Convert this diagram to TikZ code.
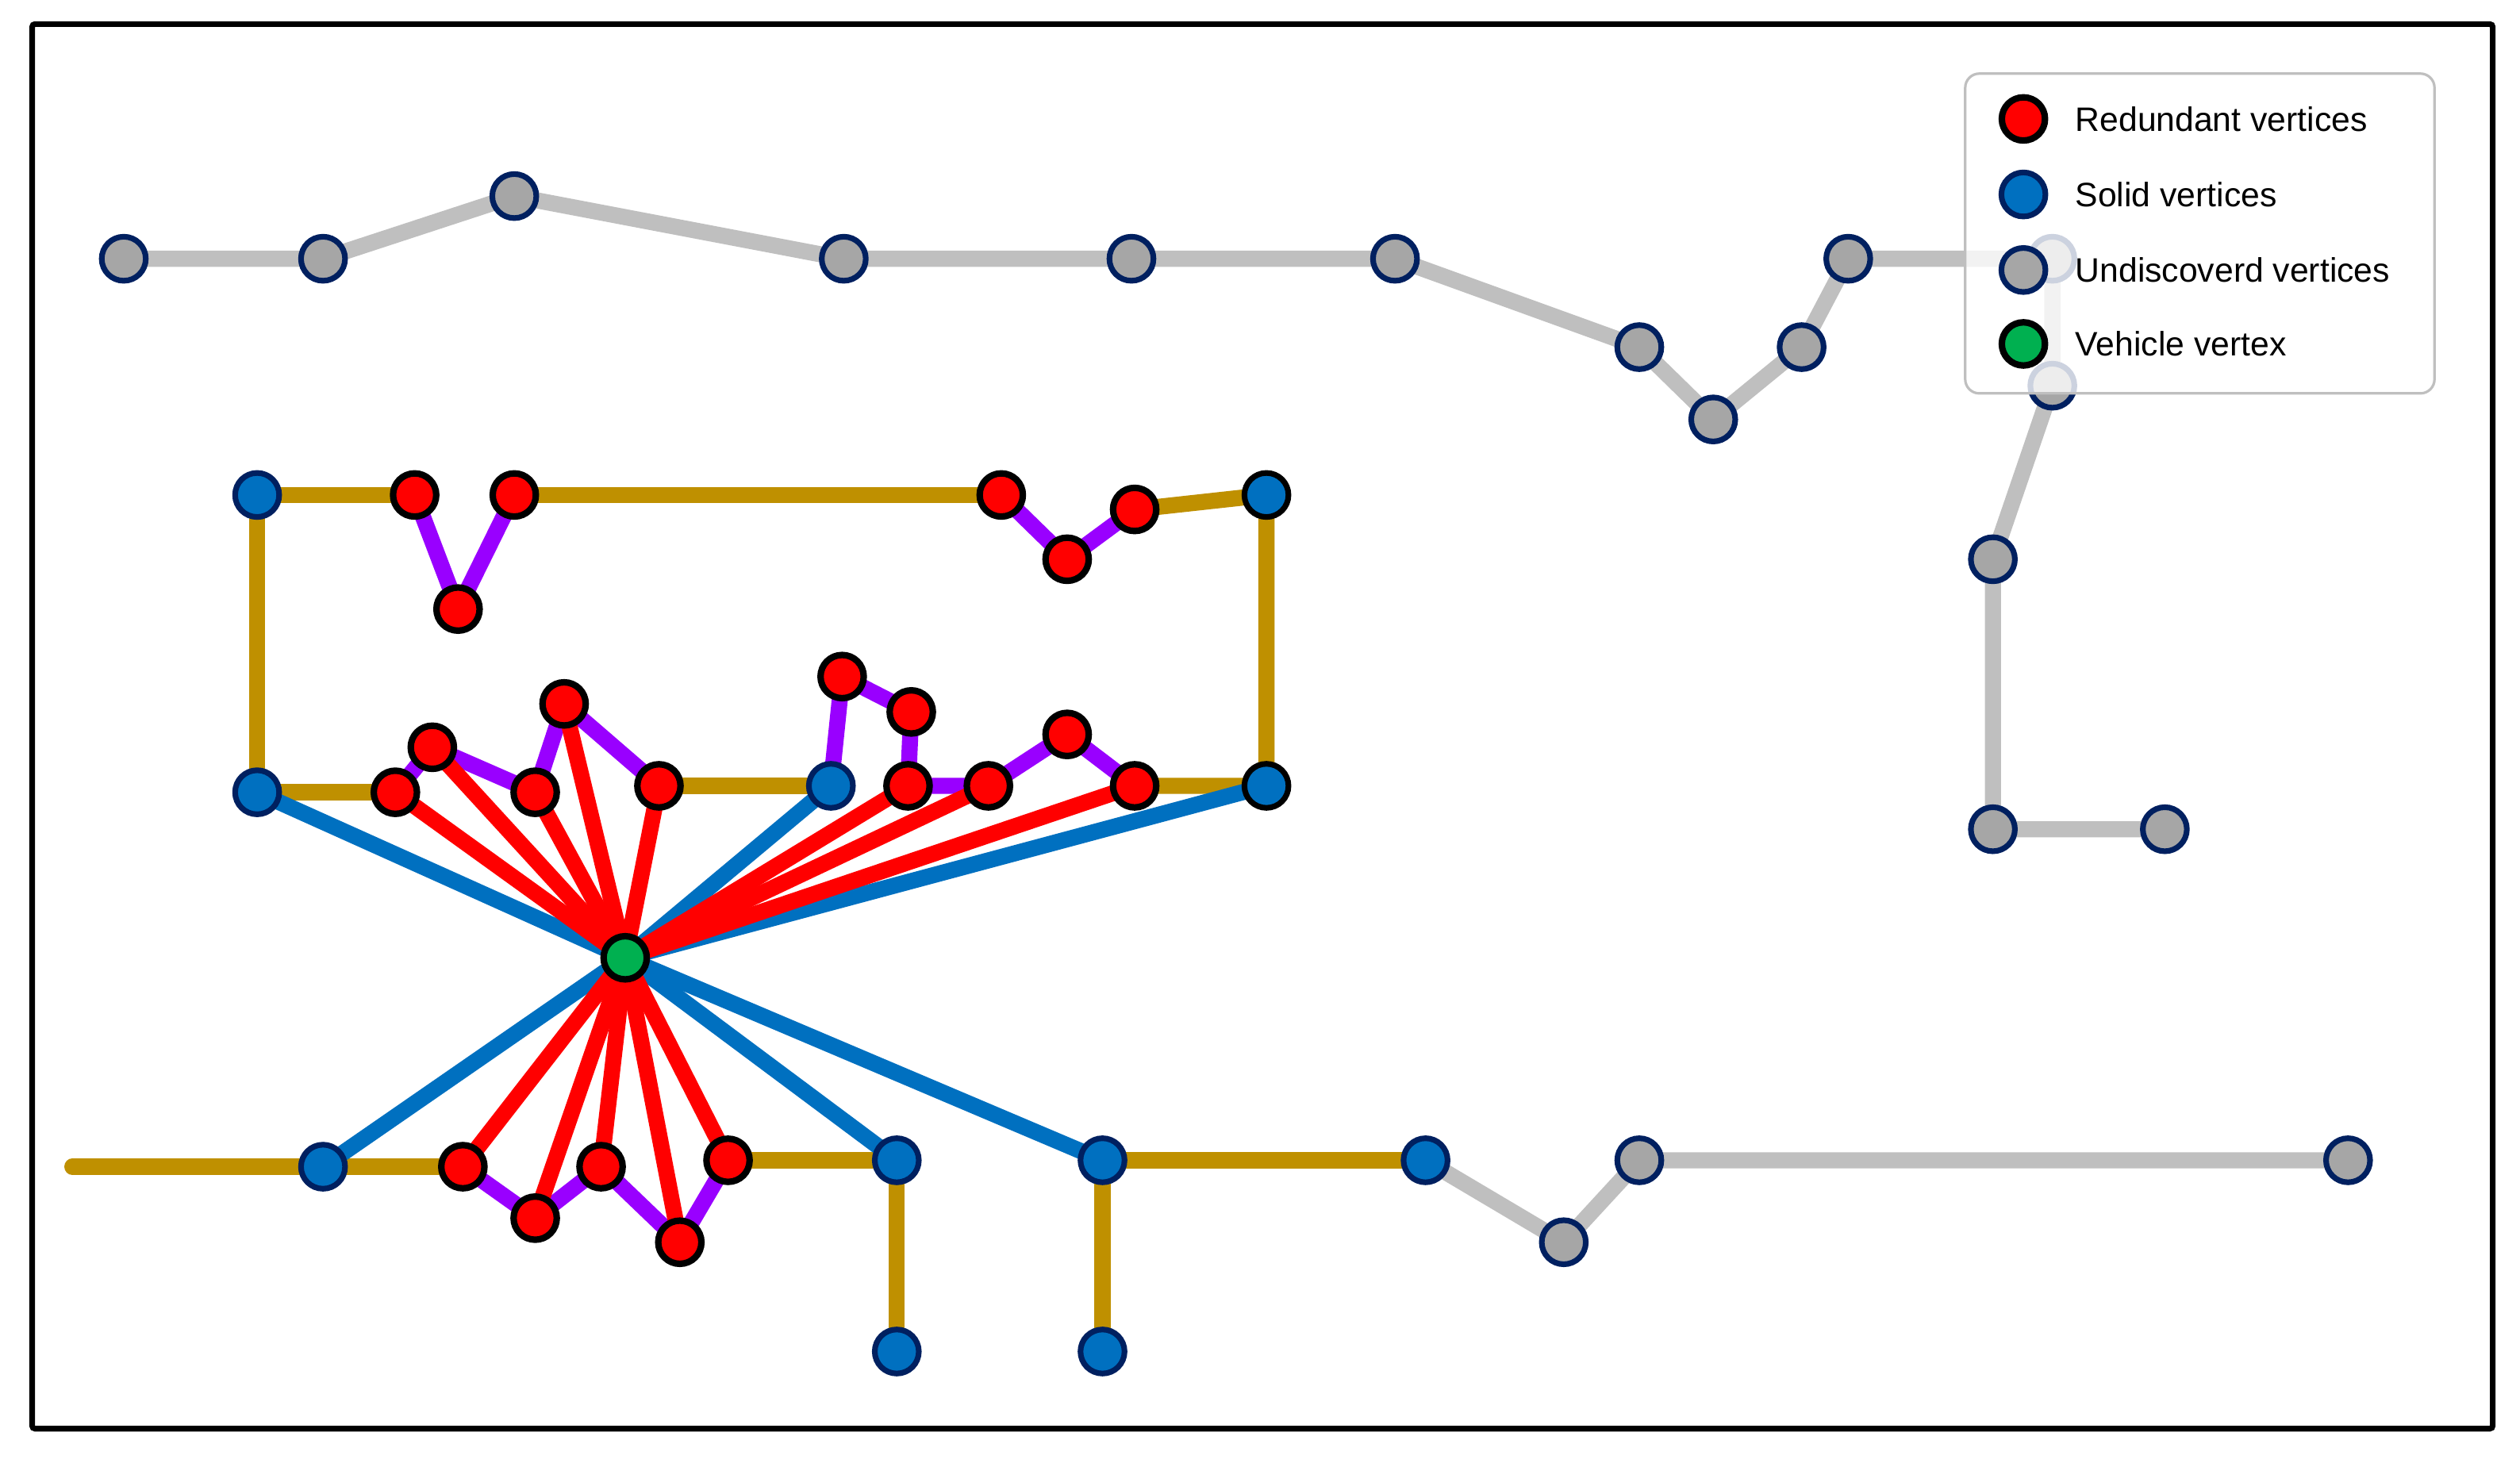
\documentclass[tikz,border=0pt]{standalone}
\usepackage{fontspec}
\setmainfont{Liberation Sans}
\definecolor{vred}{HTML}{FF0000}
\definecolor{vblue}{HTML}{0070C0}
\definecolor{vnavy}{HTML}{002060}
\definecolor{vgray}{HTML}{A6A6A6}
\definecolor{egray}{HTML}{BFBFBF}
\definecolor{egold}{HTML}{BF9000}
\definecolor{epurple}{HTML}{9900FF}
\definecolor{vgreen}{HTML}{00B050}
\pgfdeclarelayer{edges}
\pgfdeclarelayer{legend}
\pgfsetlayers{edges,main,legend}
\begin{document}
\begin{tikzpicture}[x=0.02cm,y=-0.02cm,
  vtx/.style={circle,inner sep=0pt,minimum size=15.6pt,line width=2pt},
  redv/.style={vtx,fill=vred,draw=black,line width=2.3pt,minimum size=15.3pt},
  bluev/.style={vtx,fill=vblue,draw=vnavy},
  blueblk/.style={vtx,fill=vblue,draw=black},
  grayv/.style={vtx,fill=vgray,draw=vnavy},
  greenv/.style={vtx,fill=vgreen,draw=black,line width=2.3pt,minimum size=15.3pt},
  edge/.style={line width=5.7pt},
  grayedge/.style={edge,draw=egray},
  goldedge/.style={edge,draw=egold},
  purpleedge/.style={edge,draw=epurple},
  blueedge/.style={edge,draw=vblue},
  rededge/.style={edge,draw=vred},
  legtext/.style={anchor=west,inner sep=0pt,font=\fontsize{12}{14}\selectfont}
]
\useasboundingbox (0,0) rectangle (1568,910);
\draw[line width=2pt,rounded corners=1] (20,15) rectangle (1551,889);

% gray vertices
\node[grayv] (g1) at (77,161) {};
\node[grayv] (g2) at (201,161) {};
\node[grayv] (g3) at (320,122) {};
\node[grayv] (g4) at (525,161) {};
\node[grayv] (g5) at (704,161) {};
\node[grayv] (g6) at (868,161) {};
\node[grayv] (g7) at (1020,216) {};
\node[grayv] (g8) at (1066,261) {};
\node[grayv] (g9) at (1121,216) {};
\node[grayv] (g10) at (1150,161) {};
\node[grayv] (g11) at (1277,161) {};
\node[grayv] (g12) at (1277,240) {};
\node[grayv] (g13) at (1240,348) {};
\node[grayv] (g14) at (1240,516) {};
\node[grayv] (g15) at (1347,516) {};
\node[grayv] (g16) at (973,773) {};
\node[grayv] (g17) at (1020,722) {};
\node[grayv] (g18) at (1461,722) {};

% blue vertices
\node[bluev] (b1) at (160,308) {};
\node[blueblk] (b2) at (788,308) {};
\node[blueblk] (b3) at (788,489) {};
\node[bluev] (b4) at (160,493) {};
\node[bluev] (b5) at (517,489) {};
\node[bluev] (b6) at (201,726) {};
\node[bluev] (b7) at (558,722) {};
\node[bluev] (b8) at (558,841) {};
\node[bluev] (b9) at (686,722) {};
\node[bluev] (b10) at (686,841) {};
\node[bluev] (b11) at (887,722) {};

% red vertices
\node[redv] (r1) at (258,308) {};
\node[redv] (r2) at (320,308) {};
\node[redv] (r3) at (623,308) {};
\node[redv] (r4) at (706,317) {};
\node[redv] (r5) at (285,379) {};
\node[redv] (r6) at (664,348) {};
\node[redv] (r7) at (246,493) {};
\node[redv] (r8) at (269,465) {};
\node[redv] (r9) at (333,493) {};
\node[redv] (r10) at (351,438) {};
\node[redv] (r11) at (410,489) {};
\node[redv] (r12) at (524,421) {};
\node[redv] (r13) at (567,443) {};
\node[redv] (r14) at (565,489) {};
\node[redv] (r15) at (615,489) {};
\node[redv] (r16) at (664,457) {};
\node[redv] (r17) at (706,489) {};
\node[redv] (r18) at (288,726) {};
\node[redv] (r19) at (333,758) {};
\node[redv] (r20) at (374,726) {};
\node[redv] (r21) at (423,773) {};
\node[redv] (r22) at (453,722) {};

\node[greenv] (V) at (389,596) {};
\coordinate (e0) at (45,726);

\begin{pgfonlayer}{edges}
  \draw[grayedge] (g1.center) -- (g2.center) -- (g3.center) -- (g4.center) -- (g5.center) -- (g6.center) -- (g7.center) -- (g8.center) -- (g9.center) -- (g10.center) -- (g11.center) -- (g12.center) -- (g13.center) -- (g14.center) -- (g15.center);
  \draw[grayedge] (b11.center) -- (g16.center) -- (g17.center) -- (g18.center);
  % gold
  \draw[goldedge] (b4.center) -- (b1.center) -- (r1.center);
  \draw[goldedge] (r2.center) -- (r3.center);
  \draw[goldedge] (r4.center) -- (b2.center) -- (b3.center) -- (r17.center);
  \draw[goldedge] (b4.center) -- (r7.center);
  \draw[goldedge] (r11.center) -- (b5.center);
  \draw[goldedge,line cap=round] (e0) -- (b6.center) -- (r18.center);
  \draw[goldedge] (r22.center) -- (b7.center) -- (b8.center);
  \draw[goldedge] (b10.center) -- (b9.center) -- (b11.center);
  % purple
  \draw[purpleedge] (r1.center) -- (r5.center) -- (r2.center);
  \draw[purpleedge] (r3.center) -- (r6.center) -- (r4.center);
  \draw[purpleedge] (r7.center) -- (r8.center) -- (r9.center) -- (r10.center) -- (r11.center);
  \draw[purpleedge] (b5.center) -- (r12.center) -- (r13.center) -- (r14.center) -- (r15.center) -- (r16.center) -- (r17.center);
  \draw[purpleedge] (r18.center) -- (r19.center) -- (r20.center) -- (r21.center) -- (r22.center);
  % blue spokes
  \foreach \t in {b4,b5,b3,b6,b7,b9}
    \draw[blueedge] (V.center) -- (\t.center);
  % red spokes
  \foreach \t in {r7,r8,r9,r10,r11,r14,r15,r17,r18,r19,r20,r21,r22}
    \draw[rededge] (V.center) -- (\t.center);
\end{pgfonlayer}

\begin{pgfonlayer}{legend}
  \node[draw=egray,line width=0.9pt,rounded corners=5,fill=white,fill opacity=0.8,
        minimum width=292*0.02cm,minimum height=199*0.02cm,inner sep=0pt,anchor=north west] (leg) at (1222,45) {};
  \node[redv] (l1) at (1259,74) {};
  \node[bluev] (l2) at (1259,121) {};
  \node[grayv] (l3) at (1259,168) {};
  \node[greenv] (l4) at (1259,214) {};
  \node[legtext] (t1) at (1291,74) {Redundant vertices};
  \node[legtext] (t2) at (1291,121) {Solid vertices};
  \node[legtext] (t3) at (1291,168) {Undiscoverd vertices};
  \node[legtext] (t4) at (1291,214) {Vehicle vertex};
\end{pgfonlayer}
\end{tikzpicture}
\end{document}
